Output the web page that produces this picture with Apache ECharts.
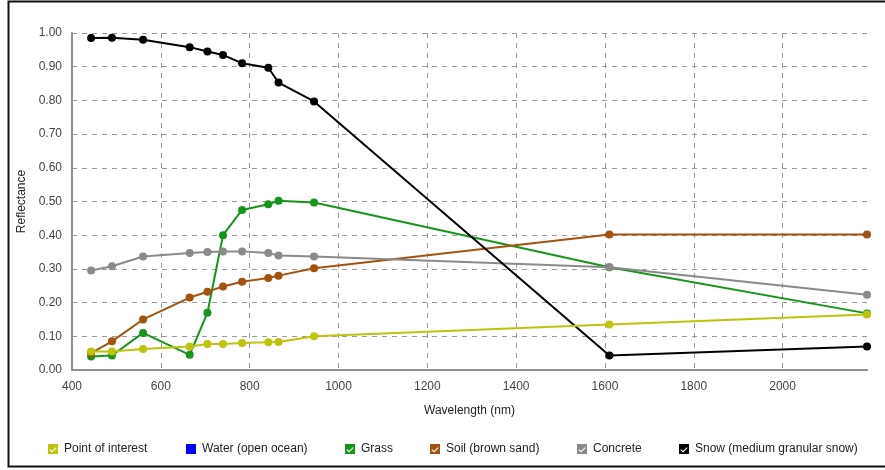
<!DOCTYPE html>
<html>
<head>
<meta charset="utf-8">
<script src="https://cdn.jsdelivr.net/npm/echarts@6/dist/echarts.min.js"></script>
<style>
  html, body { margin: 0; padding: 0; background: #fff; }
  #chart { width: 885px; height: 470px; }
</style>
</head>
<body>
<div id="chart"></div>
<script>
// Sentinel-2 band centre wavelengths (nm)
const wavelengths = [443, 490, 560, 665, 705, 740, 783, 842, 865, 945, 1610, 2190];

// Surface reflectance per band
const pointOfInterest = [0.055, 0.055, 0.062, 0.070, 0.077, 0.077, 0.080, 0.082, 0.083, 0.100, 0.135, 0.165];
const water = [];
const grass = [0.040, 0.043, 0.110, 0.045, 0.170, 0.400, 0.475, 0.492, 0.502, 0.497, 0.305, 0.168];
const soil = [0.050, 0.085, 0.150, 0.215, 0.232, 0.248, 0.262, 0.273, 0.280, 0.302, 0.402, 0.402];
const concrete = [0.295, 0.308, 0.337, 0.347, 0.350, 0.352, 0.352, 0.347, 0.340, 0.337, 0.305, 0.223];
const snow = [0.985, 0.986, 0.980, 0.958, 0.945, 0.935, 0.910, 0.897, 0.853, 0.797, 0.043, 0.070];

const seriesNames = ['Point of interest', 'Water (open ocean)', 'Grass', 'Soil (brown sand)', 'Concrete', 'Snow (medium granular snow)'];
const seriesValues = [pointOfInterest, water, grass, soil, concrete, snow];
const seriesColors = ['#bfc30c', '#0000ff', '#17951b', '#a4530e', '#8a8a8a', '#000000'];

// Left edge of each legend entry
const legendLefts = [48, 186, 345, 430, 577, 679];

// Square checkbox with a check cut out of it
const checkedIcon = 'path://M0,0L10,0L10,10L0,10Z M1.4,6L4,8.6L8.6,4L7.8,3.2L4,7L2.2,5.2Z';
const plainIcon = 'path://M0,0L10,0L10,10L0,10Z';

const font = '"Liberation Sans", Arial, sans-serif';

const series = seriesNames.map((name, i) => ({
  name: name,
  type: 'line',
  data: seriesValues[i].map((v, j) => [wavelengths[j], v]),
  color: seriesColors[i],
  symbol: 'circle',
  symbolSize: 8,
  showSymbol: true,
  lineStyle: { width: 2 },
  z: i === 0 ? 8 : 2 + i * 0.1,
  emphasis: { disabled: true },
  animation: false
}));

const legends = seriesNames.map((name, i) => ({
  left: legendLefts[i],
  top: 443,
  padding: 0,
  itemWidth: 10,
  itemHeight: 10,
  selectedMode: false,
  textStyle: { fontFamily: font, fontSize: 12, color: '#222', padding: [0, 0, 0, 1] },
  data: [{
    name: name,
    icon: seriesValues[i].length ? checkedIcon : plainIcon,
    itemStyle: { color: seriesColors[i] }
  }]
}));

const chart = echarts.init(document.getElementById('chart'), null, { renderer: 'canvas' });
chart.setOption({
  backgroundColor: '#ffffff',
  animation: false,
  textStyle: { fontFamily: font },
  grid: { left: 72, right: 18, top: 33, bottom: 100, containLabel: false },
  legend: legends,
  xAxis: {
    type: 'value',
    min: 400,
    max: 2190,
    interval: 200,
    name: 'Wavelength (nm)',
    nameLocation: 'middle',
    nameGap: 35,
    nameTextStyle: { fontFamily: font, fontSize: 12, color: '#222' },
    axisLine: { show: true, onZero: false, lineStyle: { color: '#8a8f99', width: 2 } },
    axisTick: { show: false },
    axisLabel: {
      fontFamily: font, fontSize: 12, color: '#444', margin: 11, showMaxLabel: false,
      formatter: v => String(v)
    },
    splitLine: {
      show: true,
      showMinLine: false,
      showMaxLine: false,
      lineStyle: { color: '#9a9a9a', type: [5, 5], width: 1 }
    }
  },
  yAxis: {
    type: 'value',
    min: 0,
    max: 1,
    interval: 0.1,
    name: 'Reflectance',
    nameLocation: 'middle',
    nameGap: 31,
    nameTextStyle: { fontFamily: font, fontSize: 12, color: '#222' },
    axisLine: { show: true, lineStyle: { color: '#8a8f99', width: 2 } },
    axisTick: { show: false },
    axisLabel: {
      fontFamily: font, fontSize: 12, color: '#444', margin: 10,
      formatter: v => v.toFixed(2)
    },
    splitLine: {
      show: true,
      showMinLine: false,
      lineStyle: { color: '#9a9a9a', type: [5, 5], width: 1 }
    }
  },
  graphic: [{
    type: 'rect',
    silent: true,
    z: 100,
    shape: { x: 8.5, y: 1.5, width: 900, height: 465 },
    style: { fill: null, stroke: '#111', lineWidth: 2 }
  }],
  series: series
});
</script>
</body>
</html>
